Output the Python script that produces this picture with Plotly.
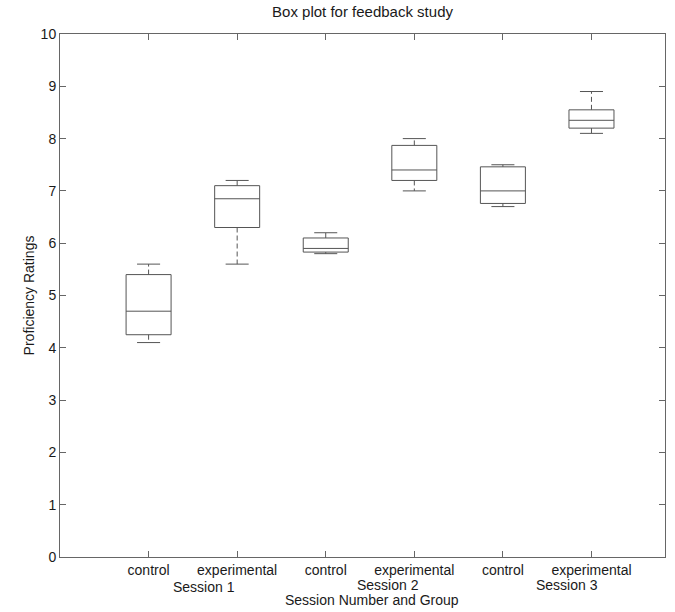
import plotly.graph_objects as go

# ---- data ----
positions = [1, 2, 3, 4, 5, 6]
groups = ["control", "experimental", "control", "experimental", "control", "experimental"]
lower_whisker = [4.1, 5.6, 5.8, 7.0, 6.7, 8.1]
q1 = [4.25, 6.3, 5.83, 7.2, 6.76, 8.2]
median = [4.7, 6.85, 5.9, 7.4, 7.0, 8.35]
q3 = [5.4, 7.1, 6.1, 7.87, 7.46, 8.55]
upper_whisker = [5.6, 7.2, 6.2, 8.0, 7.5, 8.9]
sessions = ["Session 1", "Session 2", "Session 3"]
y_ticks = list(range(0, 11))

BOX_HW = 0.254
CAP_HW = 0.13
LINE = "#555555"

box_x, box_y = [], []
med_x, med_y = [], []
wh_x, wh_y = [], []
cap_x, cap_y = [], []
for p, lo, a, m, b, hi in zip(positions, lower_whisker, q1, median, q3, upper_whisker):
    box_x += [p - BOX_HW, p + BOX_HW, p + BOX_HW, p - BOX_HW, p - BOX_HW, None]
    box_y += [a, a, b, b, a, None]
    med_x += [p - BOX_HW, p + BOX_HW, None]
    med_y += [m, m, None]
    wh_x += [p, p, None, p, p, None]
    wh_y += [b, hi, None, a, lo, None]
    cap_x += [p - CAP_HW, p + CAP_HW, None, p - CAP_HW, p + CAP_HW, None]
    cap_y += [hi, hi, None, lo, lo, None]

fig = go.Figure()
fig.add_trace(go.Scatter(x=wh_x, y=wh_y, mode="lines",
                         line=dict(color=LINE, width=1, dash="5px,3px"), hoverinfo="skip"))
fig.add_trace(go.Scatter(x=cap_x, y=cap_y, mode="lines",
                         line=dict(color=LINE, width=1), hoverinfo="skip"))
fig.add_trace(go.Scatter(x=box_x, y=box_y, mode="lines",
                         line=dict(color=LINE, width=1), hoverinfo="skip"))
fig.add_trace(go.Scatter(x=med_x, y=med_y, mode="lines",
                         line=dict(color=LINE, width=1), hoverinfo="skip"))

FONT = "Liberation Sans, Arial, sans-serif"
TXT = "#1a1a1a"

session_x = [0.238, 0.542, 0.838]
session_shift = [-30, -28, -28]
annotations = []
for s, sx, sh in zip(sessions, session_x, session_shift):
    annotations.append(dict(text=s, xref="paper", yref="paper", x=sx, y=0,
                            yshift=sh, showarrow=False, xanchor="center", yanchor="middle",
                            font=dict(family=FONT, size=14, color=TXT)))
annotations.append(dict(text="Session Number and Group", xref="paper", yref="paper",
                        x=0.515, y=0, yshift=-43, showarrow=False,
                        xanchor="center", yanchor="middle",
                        font=dict(family=FONT, size=14, color=TXT)))

fig.update_layout(
    width=675, height=612,
    margin=dict(l=60, r=10, t=34, b=55),
    paper_bgcolor="white", plot_bgcolor="white",
    showlegend=False,
    font=dict(family=FONT, size=14, color=TXT),
    title=dict(text="Box plot for feedback study", x=0.5, xref="paper",
               y=1 - 12 / 612, yref="container", xanchor="center", yanchor="middle",
               font=dict(family=FONT, size=15, color=TXT)),
    annotations=annotations,
)
fig.update_xaxes(range=[0.0, 6.83], tickmode="array", tickvals=positions, ticktext=groups,
                 ticks="inside", ticklen=6, tickcolor="#666666",
                 showline=True, linecolor="#666666", linewidth=1, mirror="ticks",
                 showgrid=False, zeroline=False, tickfont=dict(family=FONT, size=14, color=TXT))
fig.update_yaxes(range=[0, 10], tickmode="array", tickvals=y_ticks,
                 ticks="inside", ticklen=6, tickcolor="#666666",
                 showline=True, linecolor="#666666", linewidth=1, mirror="ticks",
                 showgrid=False, zeroline=False, tickfont=dict(family=FONT, size=14, color=TXT),
                 title=dict(text="Proficiency Ratings", standoff=2,
                            font=dict(family=FONT, size=14, color=TXT)))

fig.write_html("out.html", config={"displayModeBar": False},
               post_script="document.body.style.margin='0px';")
